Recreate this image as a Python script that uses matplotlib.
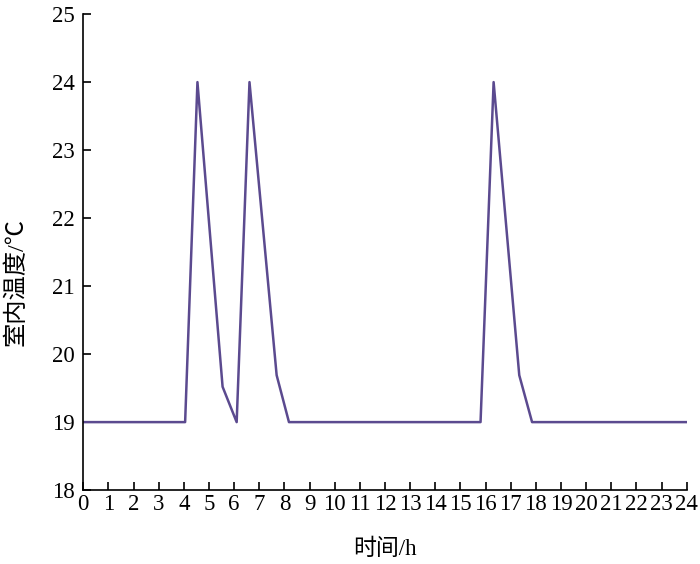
import matplotlib
matplotlib.use("Agg")
import matplotlib.pyplot as plt

hours = [0, 4.05, 4.54, 5.54, 6.1, 6.61, 7.69, 8.18, 15.8, 16.32, 17.34, 17.85, 24]
temps = [19, 19, 24, 19.52, 19, 24, 19.69, 19, 19, 24, 19.69, 19, 19]
xticks = list(range(0, 25))
yticks = list(range(18, 26))

fig = plt.figure(figsize=(7, 5.64), dpi=100)
ax = fig.add_axes([0.119, 0.131, 0.862, 0.844])
ax.plot(hours, temps, color="#5b4a8f", linewidth=1.8)
ax.set_xlim(0, 24)
ax.set_ylim(18, 25)
ax.set_xticks(xticks)
ax.set_yticks(yticks)
ax.set_xticklabels([str(t) for t in xticks])
ax.set_yticklabels([str(t) for t in yticks])
for s in ["top", "right"]:
    ax.spines[s].set_visible(False)
for s in ["left", "bottom"]:
    ax.spines[s].set_linewidth(1.2)
ax.tick_params(direction="in", length=6, width=1.2, labelsize=16.5)
ax.tick_params(axis="x", pad=3)
ax.tick_params(axis="y", pad=6)
for lab in ax.get_xticklabels() + ax.get_yticklabels():
    lab.set_family("Liberation Serif")
fam = ["Liberation Serif", "Noto Sans CJK SC", "DejaVu Sans"]
ax.set_xlabel("时间/h", family=fam, fontsize=16.5)
ax.set_ylabel("室内温度/℃", family=fam, fontsize=17.5)
ax.xaxis.set_label_coords(0.5, -0.101)
ax.yaxis.set_label_coords(-0.093, 0.437)
fig.savefig("out.png", dpi=100)
